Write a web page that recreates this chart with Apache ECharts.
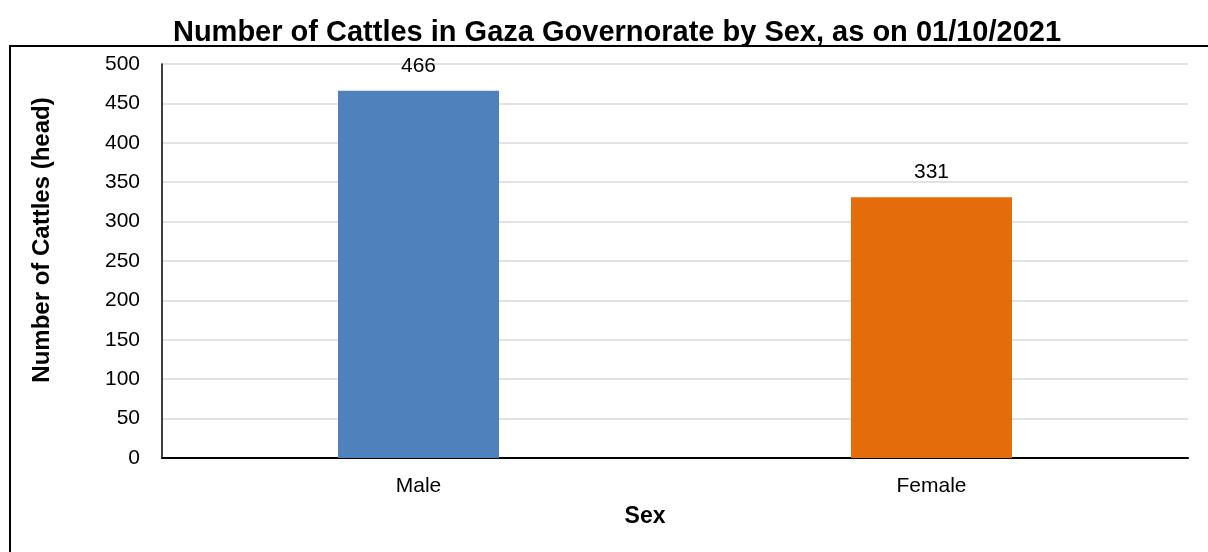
<!DOCTYPE html>
<html>
<head>
<meta charset="utf-8">
<script src="https://cdn.jsdelivr.net/npm/echarts@6/dist/echarts.min.js"></script>
<style>html,body{margin:0;padding:0;background:#fff;}#c{width:1208px;height:552px;}</style>
</head>
<body>
<div id="c"></div>
<script>
const categories = ['Male', 'Female'];
const values = [466, 331];
const barColors = ['#4f81bd', '#e46c0a'];
const yTicks = [0, 50, 100, 150, 200, 250, 300, 350, 400, 450, 500];

const chart = echarts.init(document.getElementById('c'));
const FONT = 'Liberation Sans, Arial, sans-serif';
chart.setOption({
  animation: false,
  textStyle: { fontFamily: FONT },
  title: {
    text: 'Number of Cattles in Gaza Governorate by Sex, as on 01/10/2021',
    left: 612, top: 13, textAlign: 'center',
    textStyle: { fontFamily: FONT, fontSize: 29, fontWeight: 'bold', color: '#000' }
  },
  graphic: [{
    type: 'rect', shape: { x: 10, y: 46, width: 1300, height: 700 },
    style: { fill: 'none', stroke: '#000', lineWidth: 2 }, z: -1
  }],
  grid: { left: 162, top: 64, right: 20, bottom: 94 },
  xAxis: {
    type: 'category', data: categories,
    name: 'Sex', nameLocation: 'middle', nameGap: 47,
    nameTextStyle: { fontFamily: FONT, fontSize: 23, fontWeight: 'bold', color: '#000', padding: [0, 60, 0, 0] },
    axisLine: { lineStyle: { color: '#000', width: 2 } },
    axisTick: { show: false },
    axisLabel: { fontFamily: FONT, fontSize: 21, color: '#000', margin: 18 }
  },
  yAxis: {
    type: 'value', min: yTicks[0], max: yTicks[yTicks.length - 1], interval: 50,
    name: 'Number of Cattles (head)', nameLocation: 'middle', nameGap: 108, nameRotate: 90,
    nameTextStyle: { fontFamily: FONT, fontSize: 24, fontWeight: 'bold', color: '#000', padding: [0, 0, 0, 42] },
    axisLine: { show: true, lineStyle: { color: '#000', width: 1.5 } },
    axisTick: { show: false },
    axisLabel: { fontFamily: FONT, fontSize: 21, color: '#000', margin: 22 },
    splitLine: { lineStyle: { color: '#d9d9d9', width: 1.5 } }
  },
  series: [{
    type: 'bar', barWidth: 161,
    data: values.map((v, i) => ({ value: v, itemStyle: { color: barColors[i] } })),
    label: { show: true, position: 'top', distance: 14, fontFamily: FONT, fontSize: 21, color: '#000' }
  }]
});
</script>
</body>
</html>
